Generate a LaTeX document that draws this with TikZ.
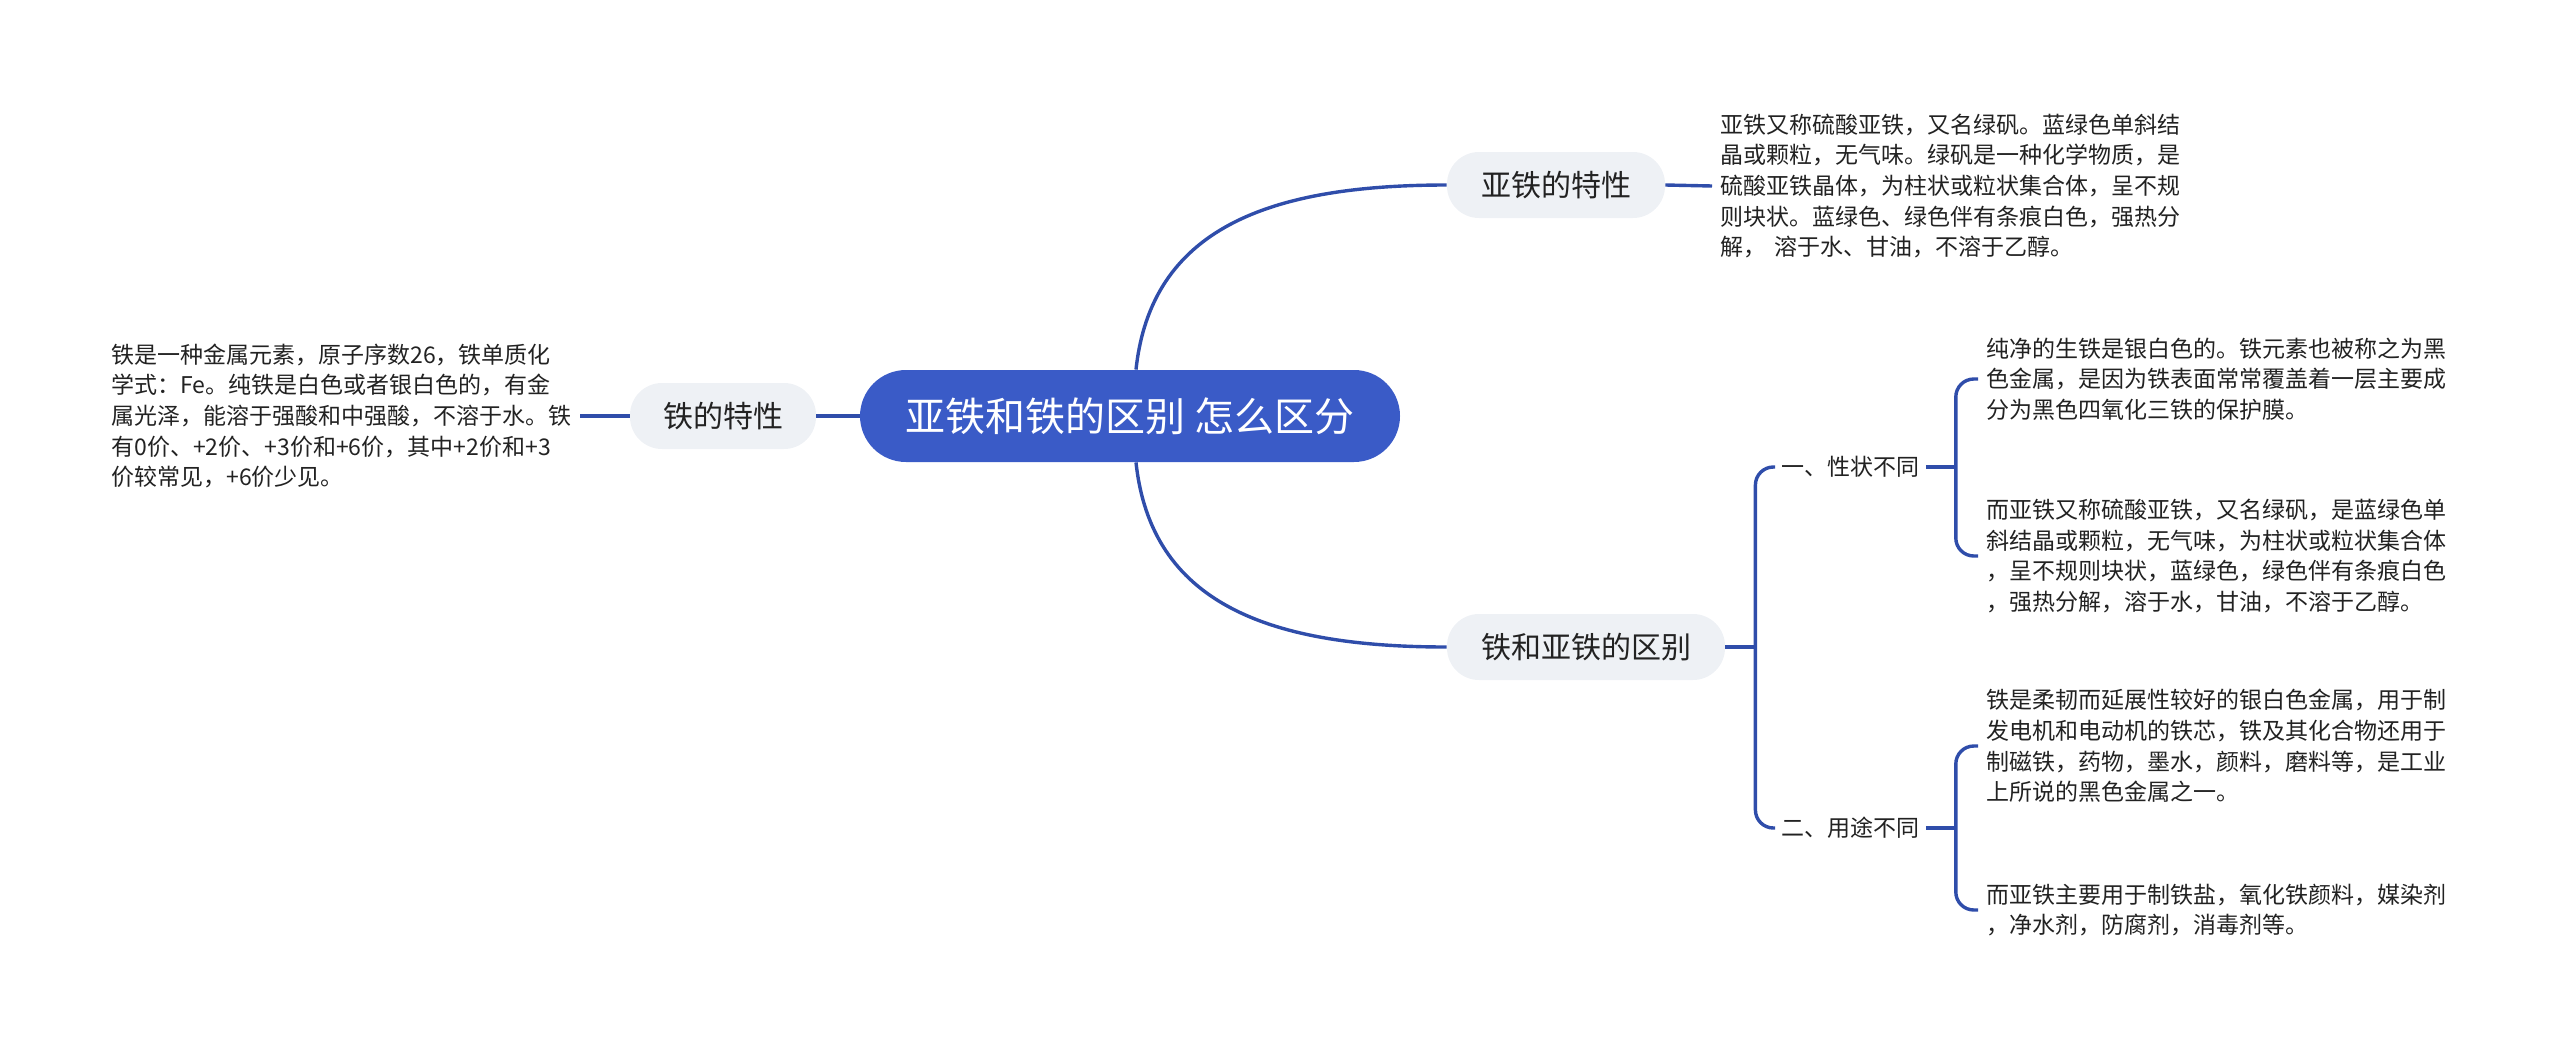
\documentclass[tikz,border=0pt]{standalone}
\usepackage{fontspec}
\setmainfont{Noto Sans CJK SC}
\usepackage{tikz}
\usetikzlibrary{positioning}
\definecolor{rootblue}{RGB}{58, 91, 199}
\definecolor{linkblue}{RGB}{47, 77, 170}
\definecolor{topicgray}{RGB}{238, 241, 245}
\definecolor{ink}{RGB}{34, 34, 34}

\begin{document}
\begin{tikzpicture}[x=0.5pt, y=-0.5pt,
    root/.style={rounded corners=23pt, fill=rootblue, text=white, font=\fontsize{20}{24}\selectfont, minimum width=270pt, minimum height=46pt, inner sep=0pt},
    topic/.style={rounded corners=16pt, fill=topicgray, text=ink, font=\fontsize{15}{18}\selectfont, minimum height=33pt, inner sep=0pt},
    sub/.style={text=ink, font=\fontsize{11.5}{14}\selectfont, inner sep=3pt},
    note/.style={text=ink, font=\fontsize{11.5}{15.3}\selectfont, align=left, inner sep=4pt},
    link/.style={draw=linkblue, line width=1.7pt},
    brace/.style={link, rounded corners=9pt}]
    \useasboundingbox (0,0) rectangle (2560,1050);

    % main topics
    \node[root] (root) at (1130,416) {亚铁和铁的区别 怎么区分};
    \node[topic, minimum width=109pt] (yatie) at (1556,185) {亚铁的特性};
    \node[topic, minimum width=139pt] (diff) at (1586,647) {铁和亚铁的区别};
    \node[topic, minimum width=93pt] (tie) at (723,416) {铁的特性};

    % notes
    \node[note, anchor=west] (yatietext) at (1712,186) {亚铁又称硫酸亚铁，又名绿矾。蓝绿色单斜结\\晶或颗粒，无气味。绿矾是一种化学物质，是\\硫酸亚铁晶体，为柱状或粒状集合体，呈不规\\则块状。蓝绿色、绿色伴有条痕白色，强热分\\解，\hspace{4pt}溶于水、甘油，不溶于乙醇。};
    \node[note, anchor=west] (tietext) at (103,416) {铁是一种金属元素，原子序数26，铁单质化\\学式：Fe。纯铁是白色或者银白色的，有金\\属光泽，能溶于强酸和中强酸，不溶于水。铁\\有0价、+2价、+3价和+6价，其中+2价和+3\\价较常见，+6价少见。};

    \node[sub, anchor=west] (xing) at (1775,467) {一、性状不同};
    \node[sub, anchor=west] (yong) at (1775,828) {二、用途不同};

    \node[note, anchor=west] (pure) at (1978,379) {纯净的生铁是银白色的。铁元素也被称之为黑\\色金属，是因为铁表面常常覆盖着一层主要成\\分为黑色四氧化三铁的保护膜。};
    \node[note, anchor=west] (ferrous) at (1978,556) {而亚铁又称硫酸亚铁，又名绿矾，是蓝绿色单\\斜结晶或颗粒，无气味，为柱状或粒状集合体\\，呈不规则块状，蓝绿色，绿色伴有条痕白色\\，强热分解，溶于水，甘油，不溶于乙醇。};
    \node[note, anchor=west] (useiron) at (1978,746) {铁是柔韧而延展性较好的银白色金属，用于制\\发电机和电动机的铁芯，铁及其化合物还用于\\制磁铁，药物，墨水，颜料，磨料等，是工业\\上所说的黑色金属之一。};
    \node[note, anchor=west] (useferrous) at (1978,910) {而亚铁主要用于制铁盐，氧化铁颜料，媒染剂\\，净水剂，防腐剂，消毒剂等。};

    % connectors
    \draw[link] ([xshift=3pt]root.north) .. controls +(15,-140) and +(-180,0) .. (yatie.west);
    \draw[link] ([xshift=3pt]root.south) .. controls +(15,140) and +(-180,0) .. (diff.west);
    \draw[link] (root.west) -- (tie.east);
    \draw[link] (tie.west) -- (tietext.east);
    \draw[link] (yatie.east) -- (yatietext.west);

    \draw[link] (diff.east) -- ++(30,0) coordinate (diffbar);
    \draw[brace] (xing.west) -| (diffbar) |- (yong.west);

    \draw[link] (xing.east) -- ++(30,0) coordinate (xingbar);
    \draw[brace] (pure.west) -| (xingbar) |- (ferrous.west);

    \draw[link] (yong.east) -- ++(30,0) coordinate (yongbar);
    \draw[brace] (useiron.west) -| (yongbar) |- (useferrous.west);
\end{tikzpicture}
\end{document}
